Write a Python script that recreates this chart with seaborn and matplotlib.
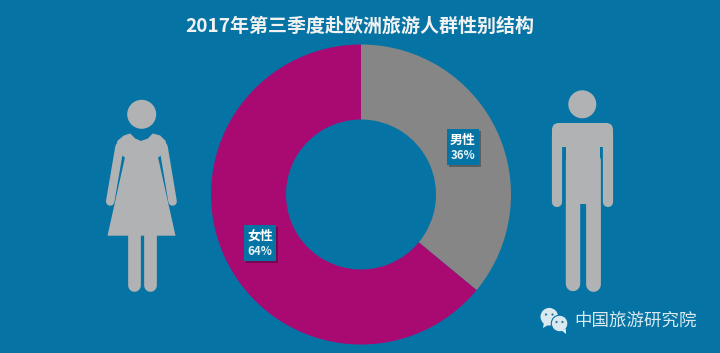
import matplotlib
matplotlib.use('Agg')
import matplotlib.pyplot as plt
import seaborn as sns
from matplotlib.patches import Circle, FancyBboxPatch, Polygon, Rectangle

genders = ['男性', '女性']
shares = [36, 64]
pie_colors = ['#868686', '#A80A72']
title_text = '2017年第三季度赴欧洲旅游人群性别结构'
source_text = '中国旅游研究院'

BG = '#0574A5'
ICON = '#B1B2B4'

sns.set_theme(style='white')
plt.rcParams['font.family'] = ['Noto Sans CJK SC', 'DejaVu Sans']

W, H = 720, 353
fig = plt.figure(figsize=(W / 100, H / 100), dpi=100, facecolor=BG)

# pixel overlay, y goes down like the picture
bg = fig.add_axes([0, 0, 1, 1], zorder=1)
bg.set_xlim(0, W)
bg.set_ylim(H, 0)
bg.axis('off')

# donut
ax = fig.add_axes([211 / W, (H - 344.5) / H, 300 / W, 300 / H], zorder=2)
ax.pie(shares, colors=pie_colors, startangle=90, counterclock=False, radius=1,
       wedgeprops={'width': 0.5, 'linewidth': 0})
ax.set_xlim(-1, 1)
ax.set_ylim(-1, 1)

top = fig.add_axes([0, 0, 1, 1], zorder=3)
top.set_xlim(0, W)
top.set_ylim(H, 0)
top.axis('off')
top.patch.set_alpha(0)


def limb(x0, y0, x1, y1, w):
    bg.plot([x0, x1], [y0, y1], color=ICON, lw=w * 0.72, solid_capstyle='round')


def poly(pts, stroke=0):
    bg.add_patch(Polygon(pts, closed=True, fc=ICON, ec=ICON, lw=stroke * 0.72, joinstyle='round'))


# man
bg.add_patch(Circle((582.3, 104.3), 14, fc=ICON, ec='none'))
bg.add_patch(FancyBboxPatch((552, 123), 61, 24, boxstyle='round,pad=0,rounding_size=7',
                            fc=ICON, ec='none'))
limb(557.2, 135, 557.2, 202, 10.2)
limb(607.8, 135, 607.8, 202, 10.2)
bg.add_patch(Rectangle((566, 128), 34, 76, fc=ICON, ec='none'))
limb(572.9, 160, 572.9, 284, 14.4)
limb(592.6, 160, 592.6, 284, 14.8)

# woman
bg.add_patch(Circle((141.7, 114.3), 14.5, fc=ICON, ec='none'))
limb(119.5, 147, 110.2, 201.5, 8.5)
limb(163.5, 147, 172.6, 201.5, 8.5)
poly([(115.5, 150), (118, 141), (124, 136), (130, 134), (135, 139), (141, 141.5), (148, 139),
      (153, 134), (160, 136), (165, 141), (167.5, 150), (158, 157), (125, 157)], 1)
poly([(125.5, 155), (157.5, 155), (175.5, 235.7), (107.5, 235.7)])
limb(133.7, 232, 133.7, 284.8, 12.7)
limb(149.5, 232, 149.5, 284.8, 12.7)

# value boxes
boxes = [(447, 129), (244, 225)]
for (x, y), name, val in zip(boxes, genders, shares):
    top.add_patch(Rectangle((x + 2, y + 2), 32, 36, fc='black', alpha=0.3, ec='none'))
    top.add_patch(Rectangle((x, y), 32, 36, fc=BG, ec='none'))
    top.text(x + 16, y + 10.5, name, color='white', fontsize=9.3, fontweight='bold',
             ha='center', va='center')
    top.text(x + 16, y + 26.5, f'{val}%', color='#E4F2F7', fontsize=8.3, fontweight='bold',
             ha='center', va='center')

top.text(359.5, 26, title_text, color='#F2F2F2', fontsize=13.7, fontweight='bold',
         ha='center', va='center')

# wechat mark + source
WM = '#D9E9EF'
top.add_patch(Circle((549.3, 316.7), 8.8, fc=WM, ec='none'))
top.add_patch(Polygon([(544, 322), (548, 325), (543, 328)], fc=WM, ec='none'))
top.add_patch(Circle((559.6, 323.5), 8.3, fc=WM, ec=BG, lw=0.8))
top.add_patch(Polygon([(561, 330), (566, 329), (566, 334)], fc=WM, ec='none'))
for px, py in [(546, 314.5), (552.5, 314.5), (556.5, 322), (562.5, 322)]:
    top.add_patch(Circle((px, py), 1.1, fc='#2F6F8F', ec='none'))
top.text(635.5, 321, source_text, color='#D9E9EF', fontsize=12.6, ha='center', va='center')

fig.savefig('out.png', dpi=100, facecolor=BG)
